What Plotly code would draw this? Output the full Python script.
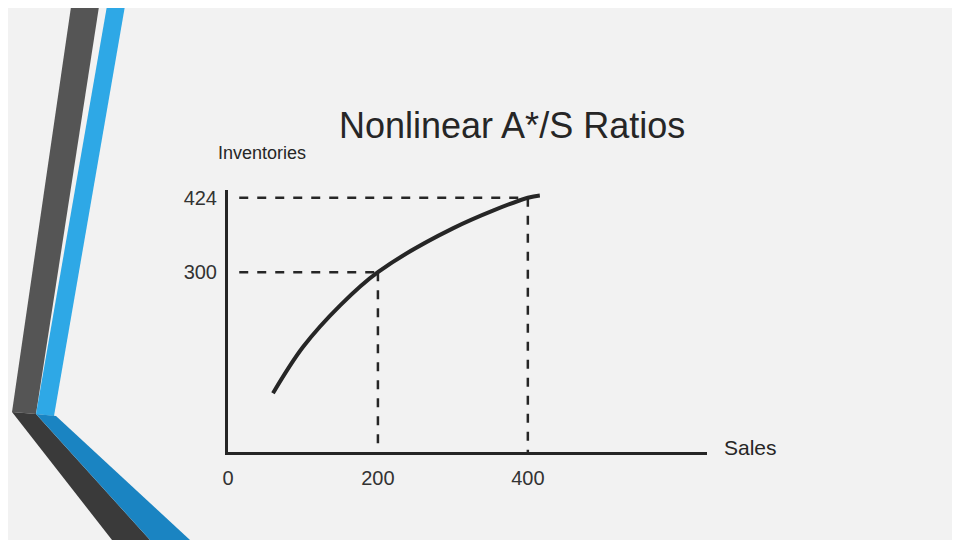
import plotly.graph_objects as go

# curve (sales, inventories)
sales = [60, 100, 150, 200, 300, 400, 416]
inventories = [98, 175, 245, 300, 373, 424, 428]
x_ticks = [0, 200, 400]
y_ticks = [300, 424]
points = [(200, 300), (400, 424)]

OFF = 8  # page body margin
W, H = 960 - 2 * OFF, 540 - OFF
L, R, T, B = 228 - OFF, 253 - OFF, 190 - OFF, 88
pw, ph = W - L - R, H - T - B


def px(x, y):
    # screen pixel -> paper coords, only for the slide decoration
    x, y = x - OFF, y - OFF
    return (x - L) / pw, (H - B - y) / ph


def poly(pts, color):
    p = [px(*q) for q in pts]
    path = "M " + " L ".join(f"{a},{b}" for a, b in p) + " Z"
    return dict(type="path", xref="paper", yref="paper", path=path,
                fillcolor=color, line=dict(width=0), layer="below")


fig = go.Figure()
fig.add_trace(go.Scatter(x=sales, y=inventories, mode="lines",
                         line=dict(color="#262626", width=4, shape="spline"),
                         showlegend=False, hoverinfo="skip"))

shapes = [
    poly([(72, 0), (100, 0), (36, 414), (12, 412)], "#555555"),
    poly([(108, 0), (126, 0), (54, 416), (36, 414)], "#2ea8e6"),
    poly([(12, 412), (36, 414), (150, 540), (112, 540)], "#3a3a3a"),
    poly([(36, 414), (56, 416), (190, 540), (150, 540)], "#1a84c2"),
]
for sx, iy in points:
    shapes.append(dict(type="line", x0=15, x1=sx, y0=iy, y1=iy,
                       line=dict(color="#262626", width=2.5, dash="dash")))
    shapes.append(dict(type="line", x0=sx, x1=sx, y0=iy, y1=0,
                       line=dict(color="#262626", width=2.5, dash="dash")))

fig.update_layout(
    width=W, height=H,
    margin=dict(l=L, r=R, t=T, b=B),
    paper_bgcolor="#f2f2f2", plot_bgcolor="#f2f2f2",
    font=dict(family="Liberation Sans, Arial", color="#333333", size=20),
    shapes=shapes,
    xaxis=dict(range=[0, 639], showgrid=False, zeroline=False,
               showline=True, linecolor="#262626", linewidth=3,
               tickvals=x_ticks, ticks="outside", ticklen=6,
               tickcolor="rgba(0,0,0,0)", tickfont=dict(size=20)),
    yaxis=dict(range=[0, 437], showgrid=False, zeroline=False,
               showline=True, linecolor="#262626", linewidth=3,
               tickvals=y_ticks, ticks="outside", ticklen=4,
               tickcolor="rgba(0,0,0,0)", tickfont=dict(size=20)),
    annotations=[
        dict(text="Nonlinear A*/S Ratios", xref="paper", yref="paper",
             x=px(512, 0)[0], y=px(0, 125)[1], yanchor="middle",
             showarrow=False, font=dict(size=36, color="#262626")),
        dict(text="Inventories", xref="paper", yref="paper",
             x=px(216, 0)[0], y=px(0, 153)[1], xanchor="left", yanchor="middle",
             showarrow=False, font=dict(size=18, color="#262626")),
        dict(text="Sales", xref="paper", yref="paper",
             x=px(722, 0)[0], y=px(0, 447)[1], xanchor="left", yanchor="middle",
             showarrow=False, font=dict(size=21, color="#262626")),
    ],
)

fig.write_html("out.html")
